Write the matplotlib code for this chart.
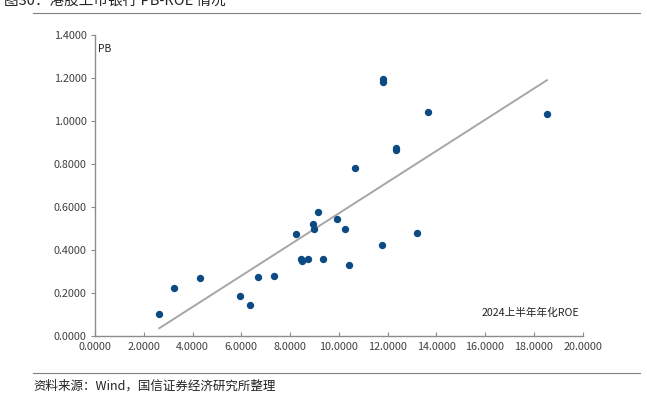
import numpy as np
import matplotlib
matplotlib.use("Agg")
import matplotlib.pyplot as plt

plt.rcParams['font.family'] = ['Noto Sans CJK SC', 'DejaVu Sans']

roe = [2.64, 3.24, 4.29, 5.96, 6.34, 6.68, 7.35, 8.24, 8.44, 8.48, 8.73, 8.95, 8.99,
       9.14, 9.36, 9.92, 10.27, 10.41, 10.68, 11.76, 11.82, 11.83, 12.35, 12.35,
       13.22, 13.65, 18.54]
pb = [0.101, 0.221, 0.268, 0.186, 0.145, 0.275, 0.278, 0.475, 0.357, 0.347, 0.360,
      0.521, 0.497, 0.579, 0.357, 0.543, 0.497, 0.331, 0.780, 0.422, 1.196, 1.180,
      0.876, 0.863, 0.479, 1.041, 1.033]

xticks = np.arange(0, 20.01, 2)
yticks = np.arange(0, 1.401, 0.2)

W, H = 647, 411
fig = plt.figure(figsize=(W / 100, H / 100), dpi=100)
ax = fig.add_axes([95 / W, 1 - 336 / H, (582.5 - 95) / W, (336 - 35) / H])

ax.scatter(roe, pb, s=28, color='#0B4A82', zorder=3, linewidths=0)

coef = np.polyfit(roe, pb, 1)
xs = np.array([min(roe), max(roe)])
ax.plot(xs, np.polyval(coef, xs), color='#A6A6A6', lw=1.4, zorder=2)

ax.set_xlim(0, 20)
ax.set_ylim(0, 1.4)
ax.set_xticks(xticks)
ax.set_yticks(yticks)
ax.set_xticklabels([f"{v:.4f}" for v in xticks])
ax.set_yticklabels([f"{v:.4f}" for v in yticks])
for s in ['top', 'right']:
    ax.spines[s].set_visible(False)
for s in ['left', 'bottom']:
    ax.spines[s].set_color('#8C8C8C')
    ax.spines[s].set_linewidth(1.0)
ax.tick_params(axis='x', direction='in', length=3, color='#8C8C8C', labelsize=7.8,
               labelcolor='#404040', pad=4)
ax.tick_params(axis='y', direction='out', length=3, color='#8C8C8C', labelsize=7.8,
               labelcolor='#404040', pad=3)

ax.text(0.006, 0.955, 'PB', transform=ax.transAxes, fontsize=7.5, color='#222222',
        ha='left', va='center')
ax.text(17.85, 0.107, '2024上半年年化ROE', fontsize=7.7, color='#222222',
        ha='center', va='center')

fig.text(4 / W, 1 - 2 / H, '图30：港股上市银行 PB-ROE 情况', fontsize=10.5,
         color='#222222', ha='left', va='center')
fig.add_artist(plt.Line2D([33 / W, 640 / W], [1 - 13 / H, 1 - 13 / H],
                          color='#808080', lw=0.8))
fig.add_artist(plt.Line2D([33 / W, 640 / W], [1 - 373 / H, 1 - 373 / H],
                          color='#808080', lw=0.8))
fig.text(33 / W, 1 - 386 / H, '资料来源：Wind，国信证券经济研究所整理', fontsize=9,
         color='#222222', ha='left', va='center')

fig.savefig('out.png', dpi=100)
